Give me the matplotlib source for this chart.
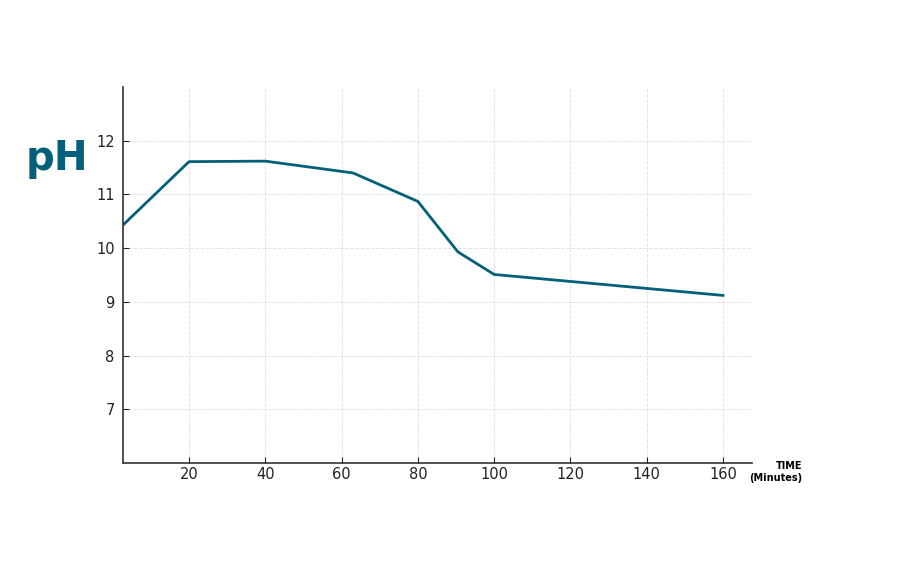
import matplotlib
matplotlib.use('Agg')
from matplotlib import pyplot as plt

# vreme (minuti) i izmereni pH
vreme = [2.7, 20, 40, 63, 80, 90.5, 100, 160]
ph = [10.43, 11.61, 11.62, 11.40, 10.87, 9.93, 9.51, 9.12]

xticks = [20, 40, 60, 80, 100, 120, 140, 160]
yticks = [7, 8, 9, 10, 11, 12]

boja = '#04607a'

fig = plt.figure(figsize=(9.17, 5.74), dpi=100)
ax = fig.add_axes([123 / 917, 1 - 463 / 574, (752 - 123) / 917, (463 - 87) / 574])

ax.plot(vreme, ph, color=boja, linewidth=2)

ax.set_xlim(2.7, 167.6)
ax.set_ylim(6, 13)
ax.set_xticks(xticks)
ax.set_yticks(yticks)
ax.tick_params(direction='in', length=4, labelsize=10.5, colors='#222222')
ax.tick_params(axis='x', pad=3)
ax.tick_params(axis='y', pad=6)
ax.grid(True, linestyle='--', color='#e3e3e3', linewidth=0.7)

for s in ['top', 'right']:
    ax.spines[s].set_visible(False)
for s in ['left', 'bottom']:
    ax.spines[s].set_color('#333333')
    ax.spines[s].set_linewidth(1.2)

fig.text(57 / 917, 1 - 159 / 574, 'pH', color=boja, fontsize=29, fontweight='bold',
         ha='center', va='center')
fig.text(802 / 917, 1 - 472 / 574, 'TIME\n(Minutes)', fontsize=7, fontweight='bold',
         ha='right', va='center', linespacing=1.2)

plt.savefig('out.png', dpi=100)
